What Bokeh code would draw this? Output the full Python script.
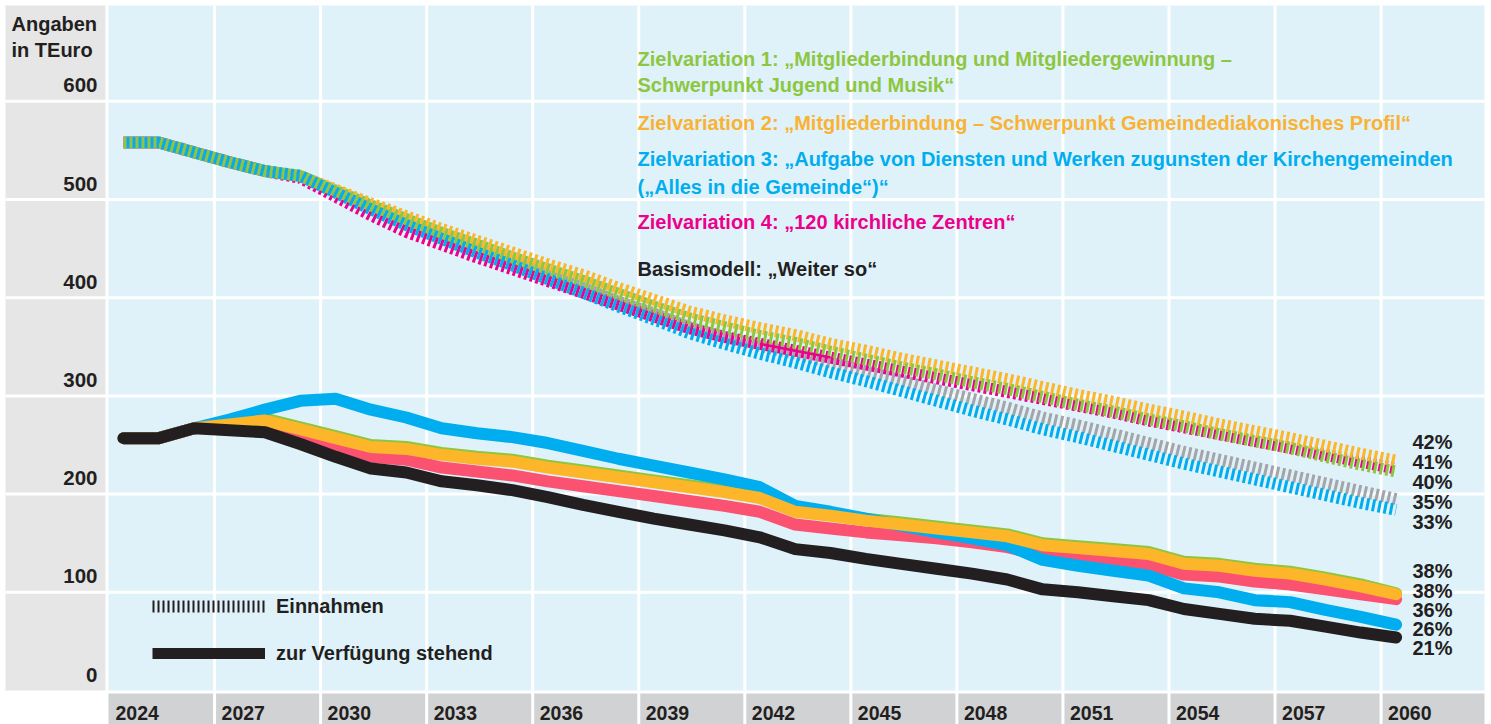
from bokeh.plotting import figure
from bokeh.models import Range1d, Legend, LegendItem
from bokeh.embed import file_html
from bokeh.resources import INLINE
from bokeh.core.properties import value

# ---------------- data ----------------
years = list(range(2024, 2061))

# Einnahmen (dashed lines), TEuro
ein_basis = [558, 558, 548, 538, 529, 524, 508, 492, 476, 463, 449, 437, 423, 410, 396, 384, 370, 360, 351, 343,
             334, 325, 316, 306, 297, 288, 278, 270, 261, 252, 243, 235, 227, 219, 211, 203, 195]
ein_zv1 = [558, 558, 548, 538, 529, 524, 509, 494, 480, 466, 454, 441, 429, 417, 404, 391, 379, 370, 361, 354,
           345, 337, 329, 322, 314, 307, 299, 291, 284, 276, 269, 261, 254, 247, 238, 230, 223]
ein_zv2 = [558, 558, 548, 538, 529, 524, 510, 496, 483, 470, 458, 446, 434, 423, 410, 398, 386, 377, 369, 362,
           353, 346, 338, 331, 324, 317, 309, 301, 294, 286, 279, 271, 264, 257, 249, 241, 234]
ein_zv3 = [558, 558, 548, 538, 529, 524, 507, 490, 474, 460, 446, 433, 419, 405, 391, 378, 364, 353, 343, 334,
           324, 315, 305, 295, 285, 276, 266, 258, 249, 240, 231, 223, 215, 207, 199, 191, 184]
ein_zv4 = [558, 558, 548, 538, 529, 522, 503, 484, 467, 454, 441, 429, 417, 405, 393, 381, 369, 360, 353, 346,
           339, 332, 325, 318, 311, 304, 297, 290, 283, 275, 268, 261, 254, 247, 240, 233, 226]

# zur Verfügung stehend (solid lines), TEuro
verf_basis = [257, 257, 267, 265, 263, 251, 238, 226, 222, 213, 209, 204, 197, 189, 182, 175, 169, 163, 156, 144,
              140, 134, 129, 124, 119, 113, 103, 100, 96, 92, 83, 78, 73, 71, 65, 59, 54]
verf_zv1 = [257, 257, 267, 271, 277, 268, 259, 250, 248, 242, 238, 235, 229, 224, 219, 214, 209, 204, 198, 184,
            180, 175, 171, 167, 163, 159, 150, 147, 144, 141, 131, 129, 124, 121, 115, 108, 99]
verf_zv2 = [257, 257, 267, 271, 275, 266, 257, 248, 246, 240, 236, 233, 227, 222, 217, 212, 207, 202, 196, 182,
            178, 173, 169, 165, 161, 157, 148, 145, 142, 139, 129, 127, 122, 119, 113, 106, 98]
verf_zv3 = [257, 257, 267, 276, 286, 295, 297, 286, 278, 267, 262, 258, 252, 244, 236, 229, 222, 215, 207, 188,
            182, 175, 168, 161, 155, 148, 133, 127, 122, 117, 104, 100, 92, 90, 82, 75, 67]
verf_zv4 = [257, 257, 267, 271, 273, 262, 250, 238, 235, 227, 223, 219, 213, 208, 203, 198, 193, 188, 182, 169,
            165, 161, 158, 155, 151, 146, 138, 135, 132, 128, 118, 116, 111, 108, 103, 98, 93]

# end-of-line percentage labels (top to bottom)
ein_pct_labels = ["42%", "41%", "40%", "35%", "33%"]      # ZV2, ZV4, ZV1, Basis, ZV3
verf_pct_labels = ["38%", "38%", "36%", "26%", "21%"]     # ZV1, ZV2, ZV4, ZV3, Basis

x_ticks = list(range(2024, 2061, 3))
x_tick_labels = [str(t) for t in x_ticks]
y_ticks = [0, 100, 200, 300, 400, 500, 600]
y_tick_labels = [str(t) for t in y_ticks]

legend_lines = [
    "Zielvariation 1: „Mitgliederbindung und Mitgliedergewinnung –",
    "Schwerpunkt Jugend und Musik“",
    "Zielvariation 2: „Mitgliederbindung – Schwerpunkt Gemeindediakonisches Profil“",
    "Zielvariation 3: „Aufgabe von Diensten und Werken zugunsten der Kirchengemeinden",
    "(„Alles in die Gemeinde“)“",
    "Zielvariation 4: „120 kirchliche Zentren“",
    "Basismodell: „Weiter so“",
]

# ---------------- styles / layout ----------------
GREEN = "#8dc63f"
ORANGE = "#fdb52a"
ORANGE_TXT = "#f9b234"
BLUE = "#00aeef"
MAGENTA = "#ec008c"
PINK = "#fb5272"
BLACK = "#231f20"
GRAY = "#a3a5a8"
BG_BLUE = "#dff2fa"
BAND_LEFT = "#e6e6e7"
BAND_BOTTOM = "#d1d2d4"
FONT = value("Liberation Sans")

W, H = 1491, 724
PX_YEAR = 35.35
PX_UNIT = 0.982


def xp(px):
    return 2024 + (px - 123) / PX_YEAR


def yp(py):
    return (690 - py) / PX_UNIT


X_START, X_END = xp(0), xp(W)
Y_TOP, Y_BOT = yp(0), yp(H)

p = figure(width=W, height=H, x_range=Range1d(X_START, X_END), y_range=Range1d(Y_BOT, Y_TOP),
           output_backend="svg", toolbar_location=None, x_axis_location=None, y_axis_location=None,
           min_border=0, outline_line_color=None, background_fill_color="white", border_fill_color="white")
p.grid.visible = False

# background bands
p.quad(left=[xp(5)], right=[xp(105)], bottom=[0], top=[yp(5)], fill_color=BAND_LEFT, line_color=None)
p.quad(left=[xp(108)], right=[xp(1484)], bottom=[0], top=[yp(5)], fill_color=BG_BLUE, line_color=None)
p.quad(left=[xp(108)], right=[xp(1484)], bottom=[Y_BOT], top=[yp(693)], fill_color=BAND_BOTTOM, line_color=None)

# white grid lines
hy = y_ticks[1:]
p.segment(x0=[xp(5)] * len(hy), x1=[xp(1484)] * len(hy), y0=hy, y1=hy, line_color="white", line_width=3)
col_w = x_ticks[1] - x_ticks[0]
vx = [t - 15 / PX_YEAR + col_w for t in x_ticks[:-1]]
p.segment(x0=vx, x1=vx, y0=[Y_BOT] * len(vx), y1=[yp(5)] * len(vx), line_color="white", line_width=3)

# Einnahmen (dashed)
dashed = [(ein_basis, GRAY, 3), (ein_zv4, MAGENTA, 0), (ein_zv2, ORANGE, 3), (ein_zv1, GREEN, 0), (ein_zv3, BLUE, 3)]
for vals, col, off in dashed:
    p.line(years, vals, line_color=col, line_width=12, line_dash="3 3", line_dash_offset=off, line_cap="butt")
# short undashed piece of the ZV4 line, 2042-2044
p.line(years[18:21], ein_zv4[18:21], line_color=MAGENTA, line_width=2.5)

# zur Verfügung stehend (solid)
solid = [(verf_zv1, GREEN), (verf_zv4, PINK), (verf_zv3, BLUE), (verf_zv2, ORANGE), (verf_basis, BLACK)]
for vals, col in solid:
    p.line(years, vals, line_color=col, line_width=12, line_cap="round", line_join="round")

# axis labels (left band, bottom band)
p.text(x=[xp(97)] * len(y_ticks), y=[v + 16 / PX_UNIT for v in y_ticks], text=y_tick_labels,
       text_align="right", text_baseline="middle", text_font=FONT, text_font_style="bold",
       text_font_size="20.5px", text_color=BLACK)
p.text(x=[xp(11)] * 2, y=[yp(23), yp(49)], text=["Angaben", "in TEuro"], text_align="left",
       text_baseline="middle", text_font=FONT, text_font_style="bold", text_font_size="20px",
       text_color=BLACK)
p.text(x=[t - 8 / PX_YEAR for t in x_ticks], y=[yp(712)] * len(x_ticks), text=x_tick_labels,
       text_align="left", text_baseline="middle", text_font=FONT, text_font_style="bold",
       text_font_size="19.5px", text_color=BLACK)


# end percentages, spread around mean end values
def spread(ends, gap_px):
    m = sum(ends) / len(ends)
    n = len(ends)
    return [m - (i - (n - 1) / 2) * gap_px / PX_UNIT for i in range(n)]


ein_ends = [ein_zv2[-1], ein_zv4[-1], ein_zv1[-1], ein_basis[-1], ein_zv3[-1]]
verf_ends = [verf_zv1[-1], verf_zv2[-1], verf_zv4[-1], verf_zv3[-1], verf_basis[-1]]
lab_y = spread(ein_ends, 19.8) + spread(verf_ends, 19.2)
p.text(x=[xp(1412)] * 10, y=lab_y, text=ein_pct_labels + verf_pct_labels, text_align="left",
       text_baseline="middle", text_font=FONT, text_font_style="bold", text_font_size="20px",
       text_color=BLACK)

# colored scenario titles
leg_y = [yp(58), yp(84), yp(122), yp(158), yp(186), yp(221), yp(268)]
leg_c = [GREEN, GREEN, ORANGE_TXT, BLUE, BLUE, MAGENTA, BLACK]
p.text(x=[xp(637)] * len(legend_lines), y=leg_y, text=legend_lines, text_color=leg_c, text_align="left",
       text_baseline="middle", text_font=FONT, text_font_style="bold", text_font_size="20px")

# legend (line types); proxies carry off-screen points so their glyphs are drawn
r_dash = p.line([X_START - 5, X_START - 4], [0, 0], line_color=BLACK, line_width=12, line_dash="2 3",
                line_cap="butt")
r_solid = p.line([X_START - 5, X_START - 4], [0, 0], line_color=BLACK, line_width=11, line_cap="butt")
legend = Legend(items=[LegendItem(label="Einnahmen", renderers=[r_dash]),
                       LegendItem(label="zur Verfügung stehend", renderers=[r_solid])],
                location=(152, 59), glyph_width=113, glyph_height=24, label_height=24, spacing=23,
                padding=0, margin=0, label_standoff=11, background_fill_alpha=0, border_line_alpha=0,
                label_text_font="Liberation Sans", label_text_font_style="bold",
                label_text_font_size="20px", label_text_color=BLACK)
p.add_layout(legend)

html = file_html(p, INLINE, title="Angaben in TEuro")
with open("out.html", "w", encoding="utf-8") as f:
    f.write(html)
